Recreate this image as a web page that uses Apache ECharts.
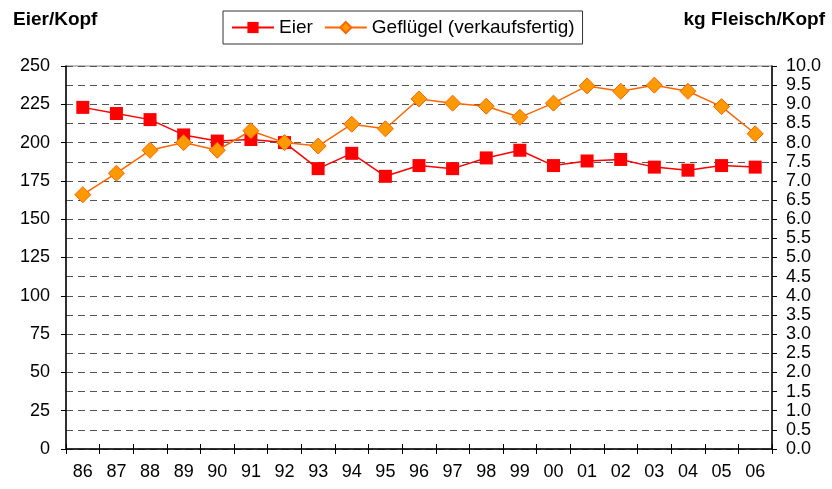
<!DOCTYPE html>
<html>
<head>
<meta charset="utf-8">
<script src="https://cdn.jsdelivr.net/npm/echarts@6/dist/echarts.min.js"></script>
<style>
  html, body { margin: 0; padding: 0; background: #fff; }
  #main { width: 832px; height: 489px; }
</style>
</head>
<body>
<div id="main"></div>
<script>
// Jahre (Kategorien)
const years = ['86', '87', '88', '89', '90', '91', '92', '93', '94', '95', '96',
  '97', '98', '99', '00', '01', '02', '03', '04', '05', '06'];
// Eier pro Kopf (linke Achse)
const eier = [223, 219, 215, 205, 201, 202, 200, 183, 193, 178, 185,
  183, 190, 195, 185, 188, 189, 184, 182, 185, 184];
// Geflügel kg pro Kopf (rechte Achse)
const gefluegel = [6.64, 7.2, 7.8, 8.0, 7.8, 8.31, 8.0, 7.91, 8.48, 8.36, 9.14,
  9.03, 8.95, 8.66, 9.03, 9.48, 9.34, 9.5, 9.34, 8.94, 8.23];

const font = 'Arial, "Liberation Sans", sans-serif';
const chart = echarts.init(document.getElementById('main'));

chart.setOption({
  animation: false,
  textStyle: { fontFamily: font },
  title: [
    { text: 'Eier/Kopf', left: 8, top: 5,
      textStyle: { fontSize: 19, fontWeight: 'bold', color: '#000', fontFamily: font } },
    { text: 'kg Fleisch/Kopf', right: 2, top: 5,
      textStyle: { fontSize: 19, fontWeight: 'bold', color: '#000', fontFamily: font } }
  ],
  legend: {
    top: 11, left: 223,
    borderColor: '#333', borderWidth: 1,
    padding: [7, 8, 7, 8],
    itemGap: 11, itemWidth: 42, itemHeight: 14,
    textStyle: { fontSize: 19, color: '#000', fontFamily: font },
    data: ['Eier', 'Geflügel (verkaufsfertig)']
  },
  grid: {
    left: 66, right: 60, top: 66, bottom: 40,
    show: true, borderColor: '#808080', borderWidth: 1
  },
  xAxis: [{
    type: 'category', data: years, boundaryGap: true,
    axisLine: { lineStyle: { color: '#000', width: 1.5 } },
    axisTick: { show: true, alignWithLabel: false, length: 5, lineStyle: { color: '#000' } },
    axisLabel: { color: '#000', fontSize: 18, margin: 14, fontFamily: font }
  }, {
    type: 'category', data: years, boundaryGap: true, position: 'bottom',
    axisLine: { show: false },
    axisTick: { show: true, inside: true, length: 5, lineStyle: { color: '#000' } },
    axisLabel: { show: false }
  }],
  yAxis: [{
    type: 'value', min: 0, max: 250, interval: 25, position: 'left',
    axisLine: { show: true, lineStyle: { color: '#000', width: 1.5 } },
    axisTick: { show: true, length: 5, lineStyle: { color: '#000' } },
    axisLabel: { color: '#000', fontSize: 18, margin: 16, fontFamily: font },
    splitLine: { show: false }
  }, {
    type: 'value', min: 0, max: 10, interval: 0.5, position: 'right',
    axisLine: { show: true, lineStyle: { color: '#000', width: 1.5 } },
    axisTick: { show: true, length: 5, lineStyle: { color: '#000' } },
    axisLabel: { color: '#000', fontSize: 18, margin: 14, fontFamily: font,
      formatter: v => v.toFixed(1) },
    splitLine: { show: true, lineStyle: { color: '#555', type: [7, 5], width: 1 } }
  }],
  series: [{
    name: 'Eier', type: 'line', yAxisIndex: 0, data: eier,
    symbol: 'rect', symbolSize: 13,
    lineStyle: { color: '#ff0000', width: 1.5 },
    itemStyle: { color: '#ff0000' },
    z: 3
  }, {
    name: 'Geflügel (verkaufsfertig)', type: 'line', yAxisIndex: 1, data: gefluegel,
    symbol: 'diamond', symbolSize: 16,
    lineStyle: { color: '#ff6600', width: 1.5 },
    itemStyle: { color: '#ff9900', borderColor: '#ff6600', borderWidth: 1 },
    z: 4
  }]
});
</script>
</body>
</html>
